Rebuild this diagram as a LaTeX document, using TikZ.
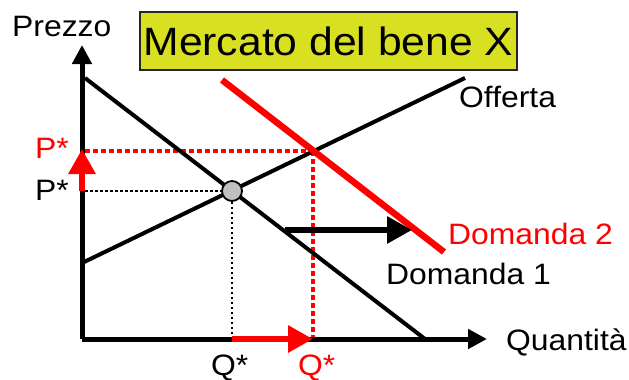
\documentclass[tikz,border=0pt]{standalone}
\usepackage{fontspec}
\setmainfont[FakeStretch=1.08]{Liberation Sans}
\usetikzlibrary{arrows.meta}
\definecolor{titlefill}{RGB}{217,224,33}
\definecolor{ptgray}{RGB}{192,192,192}
\tikzset{
  lbl/.style={anchor=base west, inner sep=0pt, font=\fontsize{29.5}{31}\selectfont},
  axisline/.style={line width=5pt, -{Triangle[length=19pt,width=19pt]}},
  curve/.style={line width=4pt},
  redcurve/.style={line width=6.5pt, red},
  reddash/.style={red, line width=3.2pt, dash pattern=on 5pt off 3pt},
  blackdot/.style={black, line width=2.4pt, dash pattern=on 2.5pt off 2.5pt},
  bigarrow/.style={line width=6pt, -{Triangle[length=25pt,width=26pt]}},
}
\begin{document}
\begin{tikzpicture}[x=1pt,y=-1pt]
\useasboundingbox (0,0) rectangle (629,380);
% key coordinates
\coordinate (O) at (82,339);
\coordinate (ytip) at (82,45);
\coordinate (xtip) at (487,339);
\coordinate (d1a) at (85,78);
\coordinate (d1b) at (425,339);
\coordinate (sa) at (82,263);
\coordinate (sb) at (465,78);
\coordinate (d2a) at (222,80);
\coordinate (d2b) at (444,252);
\coordinate (E2) at (313,151);
\coordinate (pE2) at (85,151);
\coordinate (qE2) at (313,339);
\coordinate (pE) at (85,191);
\coordinate (qE) at (232,339);
\coordinate (pE0) at (82,191);
\coordinate (pE2t) at (82,149);
\coordinate (qE0) at (232,339);
\coordinate (qE2t) at (313,339);
\coordinate (sha) at (285,230);
\coordinate (shb) at (412,230);

% title
\node (title) [draw=black!85, line width=2pt, fill=titlefill, minimum width=377pt, minimum height=58pt, inner sep=0pt,
  font=\fontsize{39.5}{42}\selectfont] at (328.5,41) {Mercato del bene X};

% dashed guides
\draw[reddash] (pE2) -- (E2);
\draw[reddash] (E2) -- (qE2);

% curves
\draw[curve] (d1a) -- (d1b);
\draw[curve] (sa) -- (sb);
\draw[redcurve] (d2a) -- (d2b);

% equilibrium point
\node (E) [circle, draw=black, line width=1.8pt, fill=ptgray, minimum size=20pt, inner sep=0pt] at (232,191) {};
\draw[blackdot] (pE) -- (E.west);
\draw[blackdot] (E.south) -- (qE);

% axes
\draw[axisline] (O) -- (ytip);
\draw[axisline] (O) -- (xtip);

% shift arrows
\draw[bigarrow, red] (pE0) -- (pE2t);
\draw[bigarrow, red] (qE0) -- (qE2t);
\draw[bigarrow] (sha) -- (shb);

% labels
\node (prezzo) [lbl] at (12,36) {Prezzo};
\node (offerta) [lbl] at (459,107) {Offerta};
\node (dom2) [lbl, red] at (448,244) {Domanda 2};
\node (dom1) [lbl] at (386,284) {Domanda 1};
\node (quant) [lbl] at (506,350) {Quantità};
\node (qstar) [lbl] at (211,375) {Q*};
\node (qstar2) [lbl, red] at (298,375) {Q*};
\node (pstar2) [lbl, red] at (35,158) {P*};
\node (pstar) [lbl] at (35,200) {P*};
\end{tikzpicture}
\end{document}
